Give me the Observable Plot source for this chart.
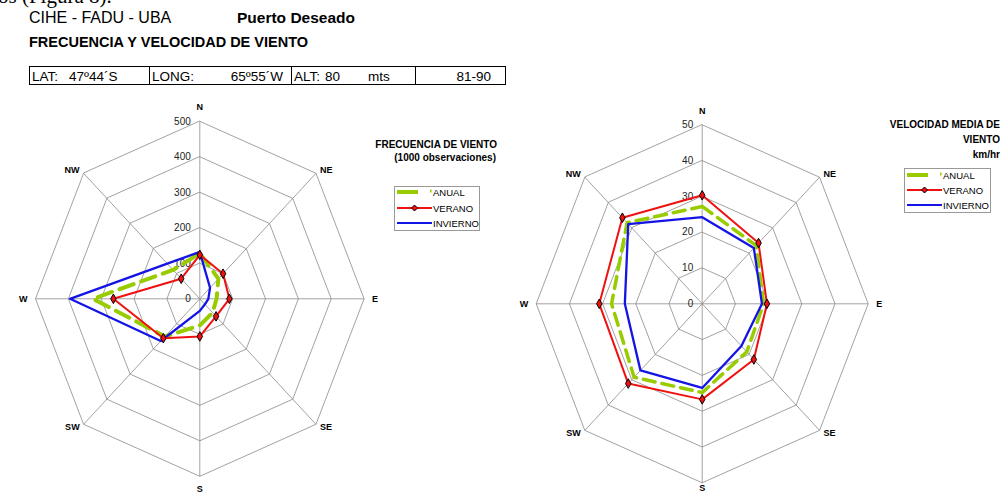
<!DOCTYPE html>
<html>
<head>
<meta charset="utf-8">
<script src="https://cdn.jsdelivr.net/npm/d3@7"></script>
<script src="https://cdn.jsdelivr.net/npm/@observablehq/plot@0.6"></script>
<style>
  html, body { margin: 0; padding: 0; background: #fff; }
  #page { position: relative; width: 1001px; height: 493px; overflow: hidden; font-family: "Liberation Sans", Arial, sans-serif; color: #000; }
  .abs { position: absolute; white-space: nowrap; }
</style>
</head>
<body>
<div id="page"></div>
<script>
// ---------------- DATA ----------------
const directions = ["N", "NE", "E", "SE", "S", "SW", "W", "NW"];

// Frecuencia de viento (por 1000 observaciones)
const freqAnual    = [128, 80, 51, 55, 75, 150, 325, 115];
const freqVerano   = [124, 100, 90, 70, 106, 157, 263, 80];
const freqInvierno = [132, 44, 26, 22, 34, 168, 395, 140];
const freqTicks    = [0, 100, 200, 300, 400, 500];

// Velocidad media de viento (km/hr)
const velAnual    = [27.2, 23, 18.5, 19, 24.8, 29, 27.3, 32];
const velVerano   = [30.3, 24, 19.5, 22, 26.7, 31.5, 31, 34];
const velInvierno = [24.2, 22, 18, 16.7, 23.5, 26.3, 23.3, 31.5];
const velTicks    = [0, 10, 20, 30, 40, 50];

const seriesNames = ["ANUAL", "VERANO", "INVIERNO"];

// header texts
const headerLeft  = "CIHE - FADU - UBA";
const headerPlace = "Puerto Deseado";
const headerTitle = "FRECUENCIA Y VELOCIDAD DE VIENTO";
const infoCells   = ["LAT:", "47º44´S", "LONG:", "65º55´W", "ALT:", "80", "mts", "81-90"];

// ---------------- DRAWING ----------------
const page = document.getElementById("page");
const COLORS = { ANUAL: "#99cc00", VERANO: "#f01010", INVIERNO: "#1414e6" };
const rad = i => i * Math.PI / 4;

function radar({values, ticks, cx, cy, rx, ry, dash, greenW, sDy}) {
  const max = ticks[ticks.length - 1];
  const px = (r, i) => r * Math.sin(rad(i));
  const py = (r, i) => r * Math.cos(rad(i));
  const ringRows = ticks.filter(t => t > 0).flatMap(t => directions.map((d, i) => ({ring: t, i})));
  const rows = name => values[name].map((v, i) => ({v, i}));
  const labelOpts = [
    {dx: 0, dy: -14, textAnchor: "middle"},
    {dx: 4, dy: -3, textAnchor: "start"},
    {dx: 8, dy: 0, textAnchor: "start"},
    {dx: 4, dy: 3, textAnchor: "start"},
    {dx: 0, dy: sDy, textAnchor: "middle"},
    {dx: -4, dy: 3, textAnchor: "end"},
    {dx: -8, dy: 0, textAnchor: "end"},
    {dx: -4, dy: -3, textAnchor: "end"}
  ];
  const labelMarks = directions.map((d, i) => Plot.text([d], {
    x: () => px(max, i), y: () => py(max, i), text: t => t,
    fontWeight: "bold", fontSize: 9, fill: "#000", ...labelOpts[i]
  }));
  const svg = Plot.plot({
    width: 1001, height: 493, margin: 0,
    style: {background: "transparent", fontFamily: "Liberation Sans, Arial, sans-serif", overflow: "visible"},
    x: {domain: [-max, max], range: [cx - rx, cx + rx], axis: null},
    y: {domain: [-max, max], range: [cy + ry, cy - ry], axis: null},
    marks: [
      Plot.line(ringRows, {x: d => px(d.ring, d.i), y: d => py(d.ring, d.i), z: "ring", curve: "linear-closed", stroke: "#8a8a8a", strokeWidth: 0.8}),
      Plot.link(directions, {x1: 0, y1: 0, x2: (d, i) => px(max, i), y2: (d, i) => py(max, i), stroke: "#8a8a8a", strokeWidth: 0.8}),
      Plot.text(ticks, {x: 0, y: d => d, text: d => String(d), dx: -9, textAnchor: "end", fontSize: 10, fill: "#222"}),
      ...labelMarks,
      Plot.line(rows("ANUAL"), {x: d => px(d.v, d.i), y: d => py(d.v, d.i), curve: "linear-closed", stroke: COLORS.ANUAL, strokeWidth: greenW, strokeDasharray: dash}),
      Plot.line(rows("INVIERNO"), {x: d => px(d.v, d.i), y: d => py(d.v, d.i), curve: "linear-closed", stroke: COLORS.INVIERNO, strokeWidth: 2.3}),
      Plot.line(rows("VERANO"), {x: d => px(d.v, d.i), y: d => py(d.v, d.i), curve: "linear-closed", stroke: COLORS.VERANO, strokeWidth: 2}),
      Plot.dot(rows("VERANO"), {x: d => px(d.v, d.i), y: d => py(d.v, d.i), symbol: "diamond", r: 2.9, fill: COLORS.VERANO, stroke: "#000", strokeWidth: 1})
    ]
  });
  svg.style.position = "absolute";
  svg.style.left = "0px";
  svg.style.top = "0px";
  return svg;
}

page.appendChild(radar({
  values: {ANUAL: freqAnual, VERANO: freqVerano, INVIERNO: freqInvierno},
  ticks: freqTicks, cx: 199.3, cy: 298.3, rx: 164.3, ry: 177.5, dash: "15,8", greenW: 4, sDy: 13
}));
page.appendChild(radar({
  values: {ANUAL: velAnual, VERANO: velVerano, INVIERNO: velInvierno},
  ticks: velTicks, cx: 701.7, cy: 303.3, rx: 166, ry: 179, dash: "12,7", greenW: 3.5, sDy: 5
}));

// ---------- header ----------
function addText(txt, x, y, css) {
  const el = document.createElement("div");
  el.className = "abs";
  el.textContent = txt;
  el.style.left = x + "px";
  el.style.top = y + "px";
  el.style.cssText += css || "";
  page.appendChild(el);
  return el;
}
addText("os (Figura 8).", -2, -14, "font-family:'Liberation Serif','Times New Roman',serif;font-size:21px;line-height:21px;");
addText(headerLeft, 29, 9, "font-size:16px;line-height:17px;");
addText(headerPlace, 237, 9, "font-size:15.5px;line-height:17px;font-weight:bold;");
addText(headerTitle, 29, 34, "font-size:14.5px;line-height:16px;font-weight:bold;");

// info box
const boxSvg = d3.select(page).append("svg").attr("class", "abs").style("left", "0px").style("top", "0px")
  .attr("width", 1001).attr("height", 100);
const cellEdges = [29, 149, 291, 415, 505];
boxSvg.append("rect").attr("x", cellEdges[0] + 0.5).attr("y", 66.5).attr("width", cellEdges[4] - cellEdges[0]).attr("height", 18)
  .attr("fill", "none").attr("stroke", "#000").attr("stroke-width", 1);
cellEdges.slice(1, 4).forEach(x => boxSvg.append("line").attr("x1", x + 0.5).attr("x2", x + 0.5).attr("y1", 66.5).attr("y2", 84.5).attr("stroke", "#000"));
const cellText = [[infoCells[0], 32, "start"], [infoCells[1], 69, "start"], [infoCells[2], 152, "start"], [infoCells[3], 283, "end"],
                  [infoCells[4], 294, "start"], [infoCells[5], 325, "start"], [infoCells[6], 368, "start"], [infoCells[7], 491, "end"]];
cellText.forEach(([t, x, a]) => boxSvg.append("text").attr("x", x).attr("y", 80.5).attr("text-anchor", a)
  .attr("font-family", "Liberation Sans, Arial, sans-serif").attr("font-size", 13.5).text(t));

// ---------- legends ----------
function legend(svg, x0, y0, w, h, lineX0, lineX1, rows, textX, tickX) {
  svg.append("rect").attr("x", x0 + 0.5).attr("y", y0 + 0.5).attr("width", w).attr("height", h)
    .attr("fill", "#fff").attr("stroke", "#999").attr("stroke-width", 1);
  rows.forEach((y, k) => {
    const name = seriesNames[k];
    if (name === "ANUAL") {
      svg.append("line").attr("x1", lineX0).attr("x2", lineX0 + 21).attr("y1", y).attr("y2", y).attr("stroke", COLORS.ANUAL).attr("stroke-width", 4);
      svg.append("line").attr("x1", tickX).attr("x2", tickX + 1.5).attr("y1", y - 1).attr("y2", y - 1).attr("stroke", COLORS.ANUAL).attr("stroke-width", 3);
    } else {
      svg.append("line").attr("x1", lineX0).attr("x2", lineX1).attr("y1", y).attr("y2", y).attr("stroke", COLORS[name]).attr("stroke-width", 2);
      if (name === "VERANO") {
        const mx = (lineX0 + lineX1) / 2, s = 3;
        svg.append("path").attr("d", `M${mx},${y - s}L${mx + s},${y}L${mx},${y + s}L${mx - s},${y}Z`)
          .attr("fill", COLORS.VERANO).attr("stroke", "#000").attr("stroke-width", 1);
      }
    }
    svg.append("text").attr("x", textX).attr("y", y + 3.5).attr("font-family", "Liberation Sans, Arial, sans-serif")
      .attr("font-size", 9.5).attr("fill", "#000").text(name);
  });
}
const legSvg = d3.select(page).append("svg").attr("class", "abs").style("left", "0px").style("top", "0px")
  .attr("width", 1001).attr("height", 493);
const title = (t, x, y) => legSvg.append("text").attr("x", x).attr("y", y).attr("text-anchor", "end")
  .attr("font-family", "Liberation Sans, Arial, sans-serif").attr("font-weight", "bold").attr("font-size", 10).text(t);
title("FRECUENCIA DE VIENTO", 497, 148);
title("(1000 observaciones)", 496, 161);
legend(legSvg, 394, 186, 85, 44, 397, 432, [192, 208, 223], 433, 430);
title("VELOCIDAD MEDIA DE", 1000, 128);
title("VIENTO", 1000, 143);
title("km/hr", 1000, 158);
legend(legSvg, 904, 168, 86, 44, 907, 942, [175, 190, 205], 943, 940);
</script>
</body>
</html>
